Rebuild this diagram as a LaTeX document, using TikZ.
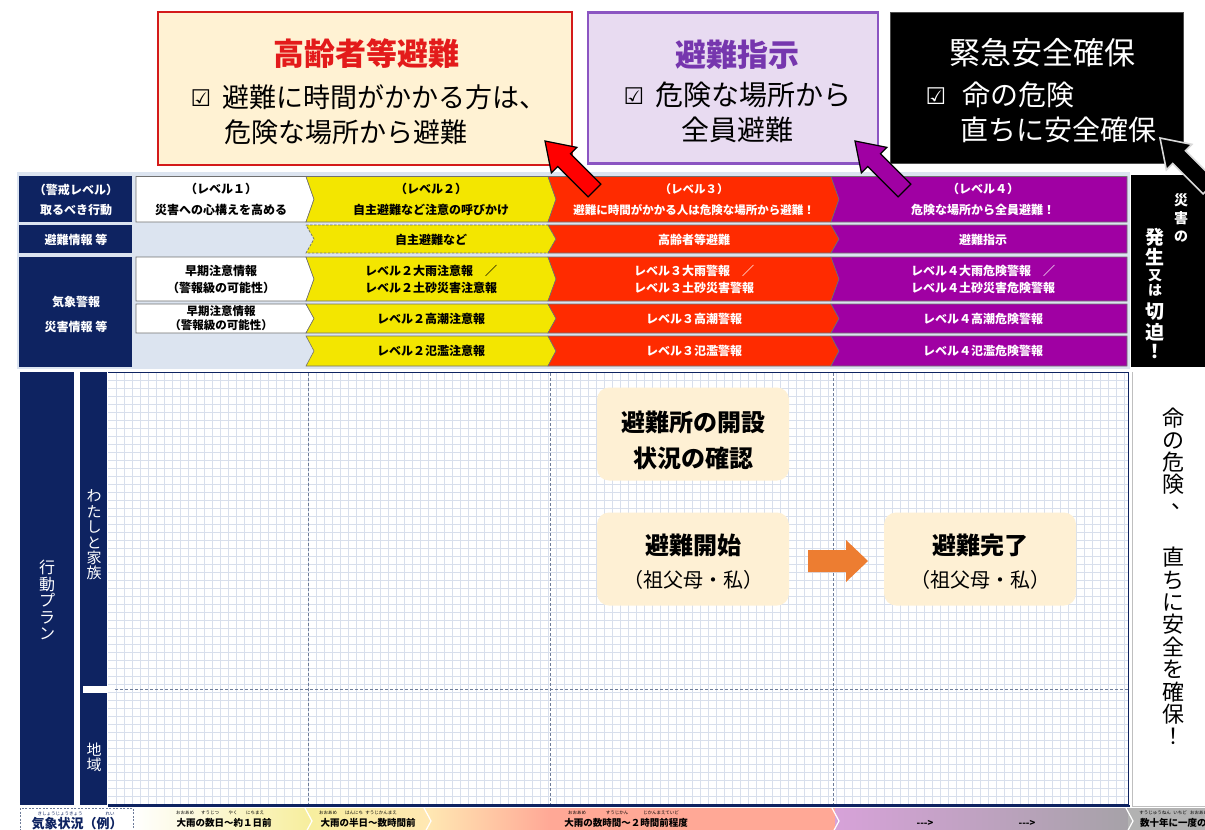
\documentclass[tikz,border=0pt]{standalone}
\usepackage{fontspec}
\setmainfont{Noto Sans CJK JP}
\newfontfamily\dejavu{DejaVu Sans}
\definecolor{navy}{HTML}{0E2361}
\definecolor{tbg}{HTML}{DCE4F0}
\definecolor{lvy}{HTML}{F3E600}
\definecolor{lvr}{HTML}{FF2B00}
\definecolor{lvp}{HTML}{A000A3}
\definecolor{cream}{HTML}{FFF2D3}
\definecolor{boxrb}{HTML}{D41A1A}
\definecolor{boxrt}{HTML}{E31B1B}
\definecolor{boxpf}{HTML}{E8DBF1}
\definecolor{boxpb}{HTML}{8B55C2}
\definecolor{boxpt}{HTML}{7636AE}
\definecolor{gridc}{HTML}{D8DFEC}
\definecolor{dashc}{HTML}{6E7C99}
\definecolor{orangea}{HTML}{ED7D31}
\definecolor{actbox}{HTML}{FEF0D4}
\definecolor{cellline}{HTML}{707070}
\definecolor{stpur}{HTML}{D7A2D9}
\definecolor{stgray}{HTML}{A6A2A8}
\definecolor{stsal}{HTML}{FFA896}
\definecolor{styel}{HTML}{F7EE9E}
\newcommand{\chvLR}[5]{\path[#5] (#1,#3) -- (#2,#3) -- ({#2+8},{(#3+#4)/2}) -- (#2,#4) -- (#1,#4) -- ({#1+8},{(#3+#4)/2}) -- cycle;}
\newcommand{\chvR}[5]{\path[#5] (#1,#3) -- (#2,#3) -- ({#2+8},{(#3+#4)/2}) -- (#2,#4) -- (#1,#4) -- cycle;}
\newcommand{\chvL}[5]{\path[#5] (#1,#3) -- (#2,#3) -- (#2,#4) -- (#1,#4) -- ({#1+8},{(#3+#4)/2}) -- cycle;}
\begin{document}
\begin{tikzpicture}[x=1pt,y=-1pt,
  every node/.style={inner sep=0pt, outer sep=0pt},
  cwhite/.style={fill=white, draw=cellline, line width=0.6pt},
  cyel/.style={fill=lvy, draw=cellline, line width=0.6pt},
  cred/.style={fill=lvr, draw=cellline, line width=0.6pt},
  cpur/.style={fill=lvp, draw=cellline, line width=0.6pt},
  tt/.style={font=\fontsize{12}{15}\selectfont\bfseries, align=center},
  ttw/.style={tt, text=white},
  hdr/.style={font=\fontsize{12}{15}\selectfont\bfseries, align=center, text=white},
  ttl/.style={font=\fontsize{31}{36}\selectfont\bfseries},
  bod/.style={font=\fontsize{28}{32}\selectfont},
  chk/.style={font=\dejavu\fontsize{23}{26}\selectfont},
  actb/.style={fill=actbox, rounded corners=12pt, minimum width=192pt, minimum height=93pt},
  actt/.style={align=center, font=\fontsize{24}{36}\selectfont\bfseries},
  dline/.style={dashc, dashed, dash pattern=on 3pt off 2pt, line width=0.8pt},
  strip/.style={font=\fontsize{9.5}{11}\selectfont\bfseries},
  furi/.style={font=\fontsize{4.5}{5}\selectfont},
  bigarrow/.style={line width=1.2pt, line join=miter}
]
\useasboundingbox (0,0) rectangle (1205,830);
\fill[white] (0,0) rectangle (1205,830);

% ---------------- top boxes ----------------
\node[draw=boxrb, line width=2.5pt, fill=cream, minimum width=414pt, minimum height=153pt] (box1) at (365,88.5) {};
\node[ttl, text=boxrt] (box1t) at (366,54) {高齢者等避難};
\node[chk] (box1c) at (201,98) {☑};
\node[bod, font=\fontsize{27}{32}\selectfont, anchor=west] (box1a) at (222,97) {避難に時間がかかる方は、};
\node[bod, font=\fontsize{27}{32}\selectfont, anchor=west] (box1b) at (224,132) {危険な場所から避難};

\node[draw=boxpb, line width=2.5pt, fill=boxpf, minimum width=290pt, minimum height=151pt] (box2) at (733,88) {};
\node[ttl, text=boxpt] (box2t) at (737,55) {避難指示};
\node[chk] (box2c) at (634,96) {☑};
\node[bod, anchor=west] (box2a) at (655,95) {危険な場所から};
\node[bod] (box2b) at (737,130) {全員避難};

\node[draw=black!70, line width=0.8pt, fill=black, minimum width=293pt, minimum height=151pt] (box3) at (1036.5,88) {};
\node[ttl, text=white, font=\fontsize{31}{36}\selectfont] (box3t) at (1042,53) {緊急安全確保};
\node[chk, text=white] (box3c) at (936,96) {☑};
\node[bod, text=white, anchor=west] (box3a) at (962,95) {命の危険};
\node[bod, text=white, anchor=west] (box3b) at (960,130) {直ちに安全確保};

% ---------------- table ----------------
\fill[tbg] (17,172) rectangle (1130,369);
\fill[navy] (19,176) rectangle (132,222);
\fill[navy] (19,225) rectangle (132,253);
\fill[navy] (19,257) rectangle (132,367);
\node[hdr, font=\fontsize{12}{20}\selectfont\bfseries] (h1) at (76,199.5) {（警戒レベル）\\取るべき行動};
\node[hdr] (h2) at (76,239.5) {避難情報 等};
\node[hdr, font=\fontsize{12}{25}\selectfont\bfseries] (h3) at (76,314) {気象警報\\災害情報 等};

% row 1
\chvR{136}{306}{176.5}{222}{cwhite}
\chvLR{306}{548}{176.5}{222}{cyel}
\chvLR{548}{831}{176.5}{222}{cred}
\chvL{831}{1127}{176.5}{222}{cpur}
% row 2
\chvLR{306}{548}{225}{253}{fill=lvy, draw=cellline, line width=0.7pt, dashed, dash pattern=on 2.5pt off 1.5pt}
\chvLR{548}{831}{225}{253}{cred}
\chvL{831}{1127}{225}{253}{cpur}
% row 3a
\chvR{136}{306}{257}{301}{cwhite}
\chvLR{306}{548}{257}{301}{cyel}
\chvLR{548}{831}{257}{301}{cred}
\chvL{831}{1127}{257}{301}{cpur}
% row 3b
\chvR{136}{306}{304}{333}{cwhite}
\chvLR{306}{548}{304}{333}{cyel}
\chvLR{548}{831}{304}{333}{cred}
\chvL{831}{1127}{304}{333}{cpur}
% row 3c
\chvLR{306}{548}{336}{366}{cyel}
\chvLR{548}{831}{336}{366}{cred}
\chvL{831}{1127}{336}{366}{cpur}

\node[tt, font=\fontsize{12}{21}\selectfont\bfseries] (r1a) at (221,199.5) {（レベル１）\\災害への心構えを高める};
\node[tt, font=\fontsize{12}{21}\selectfont\bfseries] (r1b) at (431,199.5) {（レベル２）\\自主避難など注意の呼びかけ};
\node[ttw, font=\fontsize{11.5}{21}\selectfont\bfseries] (r1c) at (694,199.5) {（レベル３）\\避難に時間がかかる人は危険な場所から避難！};
\node[ttw, font=\fontsize{12}{21}\selectfont\bfseries] (r1d) at (983,199.5) {（レベル４）\\危険な場所から全員避難！};

\node[tt] (r2b) at (431,239.5) {自主避難など};
\node[ttw] (r2c) at (694,239.5) {高齢者等避難};
\node[ttw] (r2d) at (983,239.5) {避難指示};

\node[tt, font=\fontsize{12}{17}\selectfont\bfseries] (r3aa) at (221,279.5) {早期注意情報\\（警報級の可能性）};
\node[tt, font=\fontsize{12}{17}\selectfont\bfseries] (r3ab) at (431,279.5) {レベル２大雨注意報　／\\レベル２土砂災害注意報};
\node[ttw, font=\fontsize{12}{17}\selectfont\bfseries] (r3ac) at (694,279.5) {レベル３大雨警報　／\\レベル３土砂災害警報};
\node[ttw, font=\fontsize{12}{17}\selectfont\bfseries] (r3ad) at (983,279.5) {レベル４大雨危険警報　／\\レベル４土砂災害危険警報};

\node[tt, font=\fontsize{11.5}{14}\selectfont\bfseries] (r3ba) at (221,318.5) {早期注意情報\\（警報級の可能性）};
\node[tt] (r3bb) at (431,318.5) {レベル２高潮注意報};
\node[ttw] (r3bc) at (694,318.5) {レベル３高潮警報};
\node[ttw] (r3bd) at (983,318.5) {レベル４高潮危険警報};

\node[tt] (r3cb) at (431,351) {レベル２氾濫注意報};
\node[ttw] (r3cc) at (694,351) {レベル３氾濫警報};
\node[ttw] (r3cd) at (983,351) {レベル４氾濫危険警報};

% right black column
\fill[black] (1131,175) rectangle (1205,367);
\node[align=center, text=white, font=\fontsize{14}{18}\selectfont\bfseries] (bk1) at (1181,218) {災\\害\\の};
\node[align=center, text=white, font=\fontsize{19}{20}\selectfont\bfseries] (bk2) at (1155,247) {発\\生};
\node[align=center, text=white, font=\fontsize{14}{15}\selectfont\bfseries] (bk3) at (1155,283) {又\\は};
\node[align=center, text=white, font=\fontsize{19}{21}\selectfont\bfseries] (bk4) at (1155,321.5) {切\\迫};
\node[text=white, font=\fontsize{19}{21}\selectfont\bfseries] (bk5) at (1155,352) {！};

% ---------------- top arrows ----------------
\draw[bigarrow, fill=red, draw=black, shift={(545,141)}, rotate=135] (0,0) -- (-27,-18) -- (-27,-9) -- (-70,-9) -- (-70,9) -- (-27,9) -- (-27,18) -- cycle;
\draw[bigarrow, fill=lvp, draw=black, shift={(855,141)}, rotate=135] (0,0) -- (-27,-18) -- (-27,-9) -- (-70,-9) -- (-70,9) -- (-27,9) -- (-27,18) -- cycle;
\draw[bigarrow, fill=black, draw=black!15, line width=1.6pt, shift={(1160,138)}, rotate=135] (0,0) -- (-27,-18) -- (-27,-9) -- (-70,-9) -- (-70,9) -- (-27,9) -- (-27,18) -- cycle;

% ---------------- action area ----------------
\fill[navy] (20,372) rectangle (74,805);
\fill[navy] (80,372) rectangle (107,805);
\fill[white] (83,686) rectangle (107,693);
\fill[white] (108,372) rectangle (1129,805);
\foreach \gx in {116,124,...,1128} \draw[gridc, line width=0.45pt] (\gx,373) -- (\gx,804);
\foreach \gy in {380,388,...,804} \draw[gridc, line width=0.45pt] (108,\gy) -- (1128,\gy);
\draw[dline] (308,373) -- (308,804);
\draw[dline] (550,373) -- (550,804);
\draw[dline] (833,373) -- (833,804);
\draw[dline] (115,689) -- (1128,689);
\draw[navy, line width=1.6pt] (108,372.5) -- (1128.5,372.5) -- (1128.5,804.5) -- (108,804.5);
\draw[navy, line width=1.2pt] (108,806) -- (1130,806);
\fill[white] (1132,372) rectangle (1205,806);
\draw[black!25, line width=0.6pt] (1132,372) -- (1132,806) -- (1205,806);

\node[align=center, text=white, font=\fontsize{16}{16.5}\selectfont] (plan) at (47,600) {行\\動\\プ\\ラ\\ン};
\node[align=center, text=white, font=\fontsize{15}{15.4}\selectfont] (fam) at (94,535) {わ\\た\\し\\と\\家\\族};
\node[align=center, text=white, font=\fontsize{15}{15}\selectfont] (reg) at (94,757) {地\\域};

\node[align=center, font=\fontsize{22}{22}\selectfont] (rc1) at (1173,451) {命\\の\\危\\険};
\node[font=\fontsize{22}{24}\selectfont, text=black] (rc2) at (1182,507) {、};
\node[align=center, font=\fontsize{22}{22.4}\selectfont] (rc3) at (1173,646) {直\\ち\\に\\安\\全\\を\\確\\保\\！};

\node[actb] (ba) at (693,434) {};
\node[actt] (bat) at (693,440) {避難所の開設\\状況の確認};
\node[actb] (bb) at (693,559) {};
\node[actt, font=\fontsize{24}{33}\selectfont\bfseries] (bbt) at (693,562) {避難開始\\{\fontsize{20}{24}\selectfont\mdseries （祖父母・私）}};
\node[actb] (bc) at (980,559) {};
\node[actt, font=\fontsize{24}{33}\selectfont\bfseries] (bct) at (980,562) {避難完了\\{\fontsize{20}{24}\selectfont\mdseries （祖父母・私）}};
\fill[orangea] (808,550) -- (846,550) -- (846,540) -- (868,561) -- (846,582) -- (846,572) -- (808,572) -- cycle;

% ---------------- bottom strip ----------------
\shade[left color=white, right color=styel] (133,808) rectangle (308,834);
\shade[left color=styel, right color=yellow!40!orange!30!white] (308,808) rectangle (428,834);
\shade[left color=yellow!40!orange!30!white, right color=stsal] (428,808) rectangle (550,834);
\fill[stsal] (550,808) rectangle (835,834);
\shade[left color=stpur, right color=stgray] (835,808) rectangle (1128,834);
\fill[black!30] (1128,808) rectangle (1205,834);
\draw[white, line width=1.2pt] (305,808) -- (312,821) -- (305,834);
\draw[white, line width=1.2pt] (424,808) -- (431,821) -- (424,834);
\draw[white, line width=1.2pt] (832,808) -- (839,821) -- (832,834);
\draw[white, line width=1.2pt] (1126,808) -- (1133,821) -- (1126,834);

\node[draw=dashc, dashed, dash pattern=on 2pt off 1.5pt, fill=white, minimum width=113pt, minimum height=26pt] (wbox) at (76.5,821) {};
\node[font=\fontsize{13}{14}\selectfont\bfseries, text=navy] (wtxt) at (77,824) {気象状況（例）};
\node[furi, text=navy] (wf1) at (60,813.5) {きしょうじょうきょう};
\node[furi, text=navy] (wf2) at (110,813.5) {れい};

\node[strip] (s1) at (224,823) {大雨の数日～約１日前};
\node[furi] (s1a) at (185,813) {おおあめ};
\node[furi] (s1b) at (210,813) {すうじつ};
\node[furi] (s1c) at (233,813) {やく};
\node[furi] (s1d) at (255,813) {にちまえ};

\node[strip] (s2) at (368,823) {大雨の半日～数時間前};
\node[furi] (s2a) at (328,813) {おおあめ};
\node[furi] (s2b) at (354,813) {はんにち};
\node[furi] (s2c) at (381,813) {すうじかんまえ};

\node[strip] (s3) at (626,823) {大雨の数時間～２時間前程度};
\node[furi] (s3a) at (577,813) {おおあめ};
\node[furi] (s3b) at (617,813) {すうじかん};
\node[furi] (s3c) at (661,813) {じかんまえていど};

\node[strip] (s4) at (925,823) {{-}{-}{-}>};
\node[strip] (s5) at (1027,823) {{-}{-}{-}>};

\node[strip, anchor=west] (s6) at (1140,823) {数十年に一度の大雨};
\node[furi] (s6a) at (1155,813) {すうじゅうねん};
\node[furi] (s6b) at (1180,813) {いちど};
\node[furi] (s6c) at (1199,813) {おおあめ};
\end{tikzpicture}
\end{document}
